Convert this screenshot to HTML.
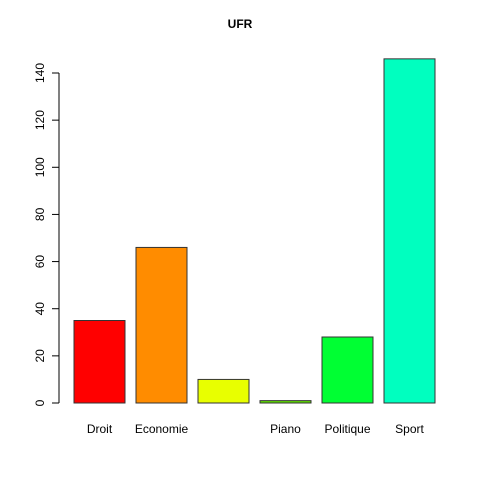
<!DOCTYPE html>
<html><head><meta charset="utf-8"><style>body{margin:0;background:#fff}svg{display:block;font-family:"Liberation Sans",sans-serif}</style></head>
<body>
<svg id="c" width="480" height="480" xmlns="http://www.w3.org/2000/svg">
<text x="240" y="28" text-anchor="middle" font-size="12" font-weight="bold">UFR</text>
</svg>
<script>
const categories=["Droit","Economie","","Piano","Politique","Sport"];
const values=[35,66,10,1,28,146];
const colors=["#FF0000","#FF8C00","#E8FF00","#5EE000","#00FF33","#00FFBF"];
const ticks=[0,20,40,60,80,100,120,140];
const svg=document.getElementById('c');
const NS="http://www.w3.org/2000/svg";
const y=v=>403-v*(330/140);
const x=i=>74+i*62;
function mk(t,a){const e=document.createElementNS(NS,t);for(const k in a)e.setAttribute(k,a[k]);svg.appendChild(e);return e;}
const ax=mk('line',{x1:59,x2:59,y1:y(0),y2:y(140),stroke:'#000'});


ticks.forEach(t=>{
 const l=mk('line',{x1:52,x2:59,y1:y(t),y2:y(t),stroke:'#000'});
 
 
 const tx=mk('text',{x:0,y:0,'font-size':12,'text-anchor':'middle',transform:`translate(44,${y(t)}) rotate(-90)`});
 tx.textContent=t;
 
 
});
values.forEach((v,i)=>{
 const r=mk('rect',{x:x(i),y:y(v),width:51,height:y(0)-y(v),fill:colors[i],stroke:'#333','stroke-width':1});
 
 
 const t=mk('text',{x:x(i)+25.5,y:433,'font-size':12,'text-anchor':'middle'});
 t.textContent=categories[i];
 
 
});
</script>
</body></html>
